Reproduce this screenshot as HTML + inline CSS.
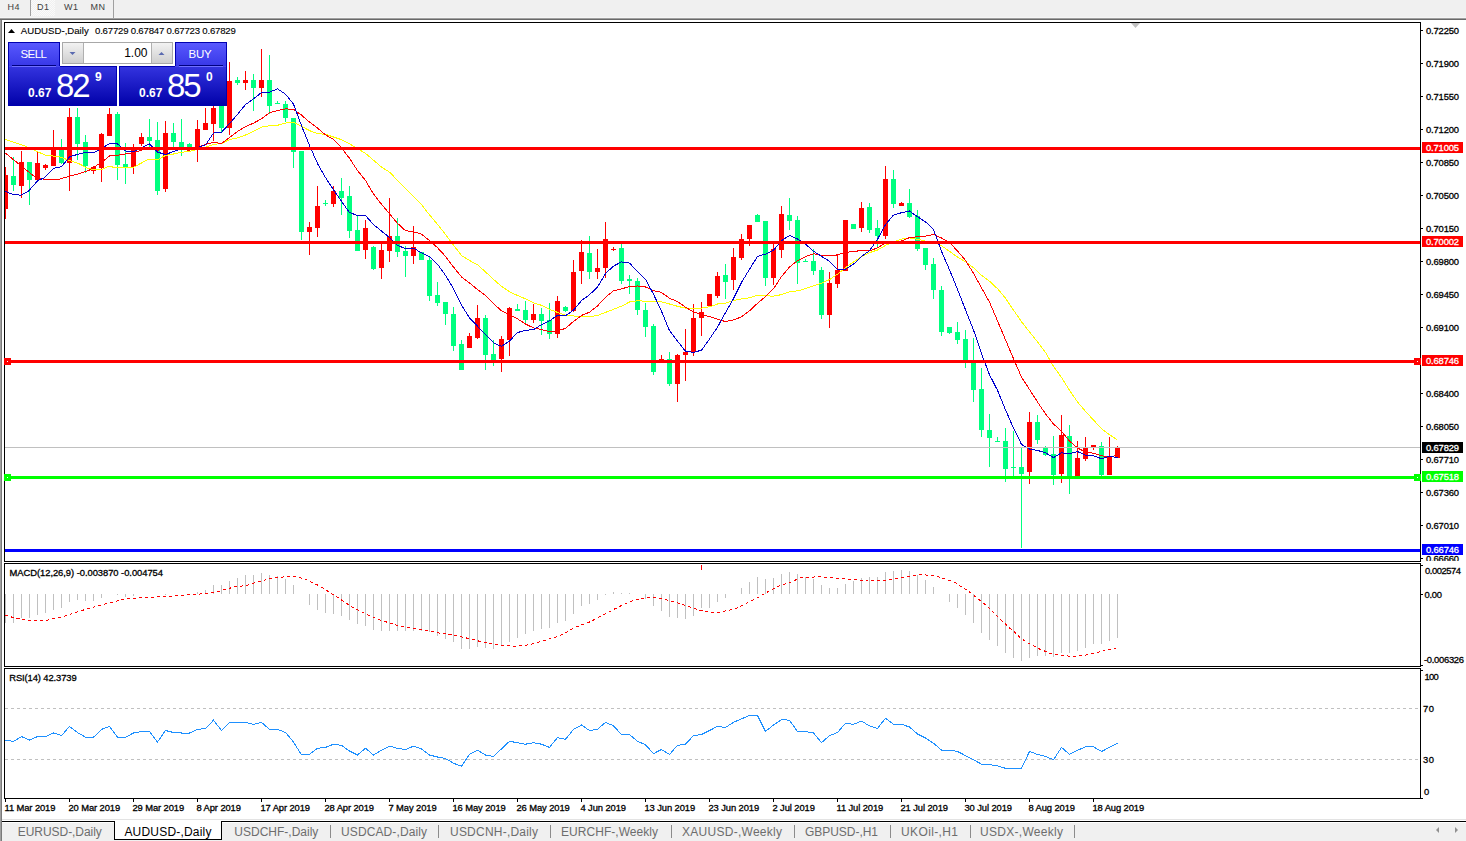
<!DOCTYPE html>
<html><head><meta charset="utf-8"><title>AUDUSD-,Daily</title>
<style>
html,body{margin:0;padding:0;background:#fff;}
body{width:1466px;height:841px;overflow:hidden;position:relative;font-family:"Liberation Sans", sans-serif;}
svg{position:absolute;left:0;top:0;}
text{font-family:"Liberation Sans", sans-serif;}
.b{stroke:#000;stroke-width:0.3px;}
.w{stroke:#fff;stroke-width:0.3px;}
.b2{stroke:#000;stroke-width:0.12px;}
</style></head><body>
<svg width="1466" height="841" viewBox="0 0 1466 841">
<defs>
<linearGradient id="gTab" x1="0" y1="0" x2="0" y2="1"><stop offset="0" stop-color="#5a5aff"/><stop offset="1" stop-color="#3636e6"/></linearGradient>
<linearGradient id="gPrice" x1="0" y1="0" x2="0" y2="1"><stop offset="0" stop-color="#3434e0"/><stop offset="1" stop-color="#0000a8"/></linearGradient>
<linearGradient id="gBtn" x1="0" y1="0" x2="0" y2="1"><stop offset="0" stop-color="#f2f2f2"/><stop offset="1" stop-color="#cfcfcf"/></linearGradient>
<pattern id="dith" width="2" height="2" patternUnits="userSpaceOnUse"><rect width="2" height="2" fill="#f0f0f0"/><rect width="1" height="1" fill="#fafafa"/><rect x="1" y="1" width="1" height="1" fill="#fafafa"/></pattern>
</defs>

<rect x="0" y="0" width="1466" height="17" fill="#f0f0f0"/>
<rect x="0" y="17" width="1466" height="1" fill="#f5f5f5"/>
<rect x="0" y="18" width="1466" height="1" fill="#a0a0a0"/>
<rect x="0" y="19" width="1466" height="1" fill="#696969"/>
<rect x="31" y="0" width="24" height="16" fill="url(#dith)"/>
<rect x="30" y="0" width="1" height="16" fill="#a0a0a0"/>
<rect x="113" y="0" width="1" height="18" fill="#a0a0a0"/>
<text x="7.5" y="10" font-size="9" letter-spacing="0.4" fill="#404040">H4</text>
<text x="37" y="10" font-size="9" letter-spacing="0.4" fill="#404040">D1</text>
<text x="64" y="10" font-size="9" letter-spacing="0.4" fill="#404040">W1</text>
<text x="90.5" y="10" font-size="9" letter-spacing="0.4" fill="#404040">MN</text>
<rect x="0" y="20" width="1" height="821" fill="#a0a0a0"/>
<rect x="1" y="20" width="1" height="821" fill="#7a7a7a"/>
<g shape-rendering="crispEdges" fill="none" stroke="#000" stroke-width="1">
<path d="M4.5,22.5H1420.5V561.5H4.5Z"/>
<path d="M4.5,563.5H1420.5V666.5H4.5Z"/>
<path d="M4.5,668.5H1420.5V798.5H4.5Z"/>
</g>
<g shape-rendering="crispEdges">
<rect x="5" y="167" width="1" height="52" fill="#ff0000"/>
<rect x="5" y="175" width="3" height="34" fill="#ff0000"/>
<rect x="13" y="157" width="1" height="34" fill="#00ff7f"/>
<rect x="11" y="176" width="5" height="9" fill="#00ff7f"/>
<rect x="21" y="151" width="1" height="47" fill="#ff0000"/>
<rect x="19" y="162" width="5" height="24" fill="#ff0000"/>
<rect x="29" y="162" width="1" height="43" fill="#00ff7f"/>
<rect x="27" y="162" width="5" height="18" fill="#00ff7f"/>
<rect x="37" y="152" width="1" height="28" fill="#ff0000"/>
<rect x="35" y="163" width="5" height="17" fill="#ff0000"/>
<rect x="45" y="164" width="1" height="6" fill="#ff0000"/>
<rect x="43" y="165" width="5" height="3" fill="#ff0000"/>
<rect x="53" y="130" width="1" height="36" fill="#ff0000"/>
<rect x="51" y="148" width="5" height="18" fill="#ff0000"/>
<rect x="61" y="139" width="1" height="25" fill="#00ff7f"/>
<rect x="59" y="149" width="5" height="14" fill="#00ff7f"/>
<rect x="69" y="108" width="1" height="83" fill="#ff0000"/>
<rect x="67" y="117" width="5" height="46" fill="#ff0000"/>
<rect x="77" y="108" width="1" height="52" fill="#00ff7f"/>
<rect x="75" y="117" width="5" height="27" fill="#00ff7f"/>
<rect x="85" y="135" width="1" height="38" fill="#00ff7f"/>
<rect x="83" y="142" width="5" height="24" fill="#00ff7f"/>
<rect x="93" y="166" width="1" height="8" fill="#ff0000"/>
<rect x="91" y="167" width="5" height="4" fill="#ff0000"/>
<rect x="101" y="133" width="1" height="49" fill="#ff0000"/>
<rect x="99" y="134" width="5" height="34" fill="#ff0000"/>
<rect x="109" y="108" width="1" height="28" fill="#ff0000"/>
<rect x="107" y="114" width="5" height="22" fill="#ff0000"/>
<rect x="117" y="112" width="1" height="68" fill="#00ff7f"/>
<rect x="115" y="114" width="5" height="51" fill="#00ff7f"/>
<rect x="125" y="143" width="1" height="41" fill="#00ff7f"/>
<rect x="123" y="164" width="5" height="3" fill="#00ff7f"/>
<rect x="133" y="144" width="1" height="30" fill="#ff0000"/>
<rect x="131" y="149" width="5" height="18" fill="#ff0000"/>
<rect x="141" y="133" width="1" height="13" fill="#ff0000"/>
<rect x="139" y="137" width="5" height="7" fill="#ff0000"/>
<rect x="149" y="119" width="1" height="28" fill="#00ff7f"/>
<rect x="147" y="137" width="5" height="4" fill="#00ff7f"/>
<rect x="157" y="122" width="1" height="73" fill="#00ff7f"/>
<rect x="155" y="140" width="5" height="51" fill="#00ff7f"/>
<rect x="165" y="121" width="1" height="71" fill="#ff0000"/>
<rect x="163" y="133" width="5" height="56" fill="#ff0000"/>
<rect x="173" y="123" width="1" height="24" fill="#00ff7f"/>
<rect x="171" y="133" width="5" height="9" fill="#00ff7f"/>
<rect x="181" y="119" width="1" height="37" fill="#00ff7f"/>
<rect x="179" y="142" width="5" height="5" fill="#00ff7f"/>
<rect x="189" y="143" width="1" height="7" fill="#00ff7f"/>
<rect x="187" y="144" width="5" height="5" fill="#00ff7f"/>
<rect x="197" y="120" width="1" height="42" fill="#ff0000"/>
<rect x="195" y="129" width="5" height="19" fill="#ff0000"/>
<rect x="205" y="108" width="1" height="22" fill="#ff0000"/>
<rect x="203" y="123" width="5" height="7" fill="#ff0000"/>
<rect x="213" y="100" width="1" height="41" fill="#ff0000"/>
<rect x="211" y="108" width="5" height="16" fill="#ff0000"/>
<rect x="221" y="100" width="1" height="33" fill="#00ff7f"/>
<rect x="219" y="100" width="5" height="28" fill="#00ff7f"/>
<rect x="229" y="62" width="1" height="73" fill="#ff0000"/>
<rect x="227" y="81" width="5" height="47" fill="#ff0000"/>
<rect x="237" y="77" width="1" height="8" fill="#00ff7f"/>
<rect x="235" y="80" width="5" height="3" fill="#00ff7f"/>
<rect x="245" y="71" width="1" height="19" fill="#ff0000"/>
<rect x="243" y="80" width="5" height="3" fill="#ff0000"/>
<rect x="253" y="74" width="1" height="37" fill="#00ff7f"/>
<rect x="251" y="80" width="5" height="8" fill="#00ff7f"/>
<rect x="261" y="49" width="1" height="48" fill="#ff0000"/>
<rect x="259" y="80" width="5" height="8" fill="#ff0000"/>
<rect x="269" y="55" width="1" height="59" fill="#00ff7f"/>
<rect x="267" y="80" width="5" height="26" fill="#00ff7f"/>
<rect x="277" y="101" width="1" height="3" fill="#00ff7f"/>
<rect x="275" y="103" width="5" height="1" fill="#00ff7f"/>
<rect x="285" y="101" width="1" height="21" fill="#00ff7f"/>
<rect x="283" y="104" width="5" height="14" fill="#00ff7f"/>
<rect x="293" y="118" width="1" height="50" fill="#00ff7f"/>
<rect x="291" y="118" width="5" height="34" fill="#00ff7f"/>
<rect x="301" y="151" width="1" height="89" fill="#00ff7f"/>
<rect x="299" y="151" width="5" height="81" fill="#00ff7f"/>
<rect x="309" y="222" width="1" height="33" fill="#ff0000"/>
<rect x="307" y="227" width="5" height="5" fill="#ff0000"/>
<rect x="317" y="186" width="1" height="51" fill="#ff0000"/>
<rect x="315" y="206" width="5" height="22" fill="#ff0000"/>
<rect x="325" y="200" width="1" height="6" fill="#00ff7f"/>
<rect x="323" y="203" width="5" height="1" fill="#00ff7f"/>
<rect x="333" y="186" width="1" height="21" fill="#ff0000"/>
<rect x="331" y="191" width="5" height="13" fill="#ff0000"/>
<rect x="341" y="178" width="1" height="37" fill="#00ff7f"/>
<rect x="339" y="191" width="5" height="7" fill="#00ff7f"/>
<rect x="349" y="186" width="1" height="52" fill="#00ff7f"/>
<rect x="347" y="196" width="5" height="35" fill="#00ff7f"/>
<rect x="357" y="216" width="1" height="35" fill="#00ff7f"/>
<rect x="355" y="230" width="5" height="21" fill="#00ff7f"/>
<rect x="365" y="220" width="1" height="39" fill="#ff0000"/>
<rect x="363" y="228" width="5" height="22" fill="#ff0000"/>
<rect x="373" y="246" width="1" height="24" fill="#00ff7f"/>
<rect x="371" y="247" width="5" height="22" fill="#00ff7f"/>
<rect x="381" y="244" width="1" height="35" fill="#ff0000"/>
<rect x="379" y="250" width="5" height="18" fill="#ff0000"/>
<rect x="389" y="198" width="1" height="64" fill="#ff0000"/>
<rect x="387" y="236" width="5" height="15" fill="#ff0000"/>
<rect x="397" y="218" width="1" height="39" fill="#00ff7f"/>
<rect x="395" y="236" width="5" height="16" fill="#00ff7f"/>
<rect x="405" y="246" width="1" height="31" fill="#00ff7f"/>
<rect x="403" y="251" width="5" height="5" fill="#00ff7f"/>
<rect x="413" y="226" width="1" height="38" fill="#ff0000"/>
<rect x="411" y="247" width="5" height="9" fill="#ff0000"/>
<rect x="421" y="252" width="1" height="8" fill="#00ff7f"/>
<rect x="419" y="252" width="5" height="8" fill="#00ff7f"/>
<rect x="429" y="256" width="1" height="45" fill="#00ff7f"/>
<rect x="427" y="260" width="5" height="36" fill="#00ff7f"/>
<rect x="437" y="282" width="1" height="24" fill="#00ff7f"/>
<rect x="435" y="295" width="5" height="8" fill="#00ff7f"/>
<rect x="445" y="302" width="1" height="23" fill="#00ff7f"/>
<rect x="443" y="302" width="5" height="12" fill="#00ff7f"/>
<rect x="453" y="307" width="1" height="44" fill="#00ff7f"/>
<rect x="451" y="314" width="5" height="32" fill="#00ff7f"/>
<rect x="461" y="340" width="1" height="30" fill="#00ff7f"/>
<rect x="459" y="344" width="5" height="26" fill="#00ff7f"/>
<rect x="469" y="333" width="1" height="15" fill="#ff0000"/>
<rect x="467" y="336" width="5" height="12" fill="#ff0000"/>
<rect x="477" y="305" width="1" height="34" fill="#ff0000"/>
<rect x="475" y="318" width="5" height="20" fill="#ff0000"/>
<rect x="485" y="315" width="1" height="55" fill="#00ff7f"/>
<rect x="483" y="318" width="5" height="37" fill="#00ff7f"/>
<rect x="493" y="340" width="1" height="26" fill="#00ff7f"/>
<rect x="491" y="354" width="5" height="7" fill="#00ff7f"/>
<rect x="501" y="336" width="1" height="36" fill="#ff0000"/>
<rect x="499" y="339" width="5" height="20" fill="#ff0000"/>
<rect x="509" y="307" width="1" height="49" fill="#ff0000"/>
<rect x="507" y="308" width="5" height="32" fill="#ff0000"/>
<rect x="517" y="304" width="1" height="7" fill="#00ff7f"/>
<rect x="515" y="309" width="5" height="2" fill="#00ff7f"/>
<rect x="525" y="301" width="1" height="24" fill="#00ff7f"/>
<rect x="523" y="310" width="5" height="10" fill="#00ff7f"/>
<rect x="533" y="304" width="1" height="19" fill="#ff0000"/>
<rect x="531" y="314" width="5" height="6" fill="#ff0000"/>
<rect x="541" y="308" width="1" height="27" fill="#00ff7f"/>
<rect x="539" y="314" width="5" height="7" fill="#00ff7f"/>
<rect x="549" y="303" width="1" height="36" fill="#00ff7f"/>
<rect x="547" y="320" width="5" height="14" fill="#00ff7f"/>
<rect x="557" y="296" width="1" height="42" fill="#ff0000"/>
<rect x="555" y="301" width="5" height="33" fill="#ff0000"/>
<rect x="565" y="306" width="1" height="6" fill="#00ff7f"/>
<rect x="563" y="307" width="5" height="4" fill="#00ff7f"/>
<rect x="573" y="260" width="1" height="52" fill="#ff0000"/>
<rect x="571" y="272" width="5" height="39" fill="#ff0000"/>
<rect x="581" y="240" width="1" height="44" fill="#ff0000"/>
<rect x="579" y="252" width="5" height="19" fill="#ff0000"/>
<rect x="589" y="236" width="1" height="43" fill="#00ff7f"/>
<rect x="587" y="253" width="5" height="19" fill="#00ff7f"/>
<rect x="597" y="249" width="1" height="30" fill="#ff0000"/>
<rect x="595" y="268" width="5" height="4" fill="#ff0000"/>
<rect x="605" y="222" width="1" height="56" fill="#ff0000"/>
<rect x="603" y="239" width="5" height="29" fill="#ff0000"/>
<rect x="613" y="247" width="1" height="4" fill="#ff0000"/>
<rect x="611" y="249" width="5" height="1" fill="#ff0000"/>
<rect x="621" y="244" width="1" height="40" fill="#00ff7f"/>
<rect x="619" y="248" width="5" height="33" fill="#00ff7f"/>
<rect x="629" y="275" width="1" height="19" fill="#00ff7f"/>
<rect x="627" y="279" width="5" height="2" fill="#00ff7f"/>
<rect x="637" y="278" width="1" height="37" fill="#00ff7f"/>
<rect x="635" y="281" width="5" height="29" fill="#00ff7f"/>
<rect x="645" y="303" width="1" height="34" fill="#00ff7f"/>
<rect x="643" y="310" width="5" height="17" fill="#00ff7f"/>
<rect x="653" y="324" width="1" height="51" fill="#00ff7f"/>
<rect x="651" y="326" width="5" height="46" fill="#00ff7f"/>
<rect x="661" y="355" width="1" height="7" fill="#ff0000"/>
<rect x="659" y="359" width="5" height="3" fill="#ff0000"/>
<rect x="669" y="352" width="1" height="34" fill="#00ff7f"/>
<rect x="667" y="359" width="5" height="25" fill="#00ff7f"/>
<rect x="677" y="354" width="1" height="48" fill="#ff0000"/>
<rect x="675" y="355" width="5" height="29" fill="#ff0000"/>
<rect x="685" y="329" width="1" height="52" fill="#ff0000"/>
<rect x="683" y="352" width="5" height="3" fill="#ff0000"/>
<rect x="693" y="304" width="1" height="52" fill="#ff0000"/>
<rect x="691" y="318" width="5" height="34" fill="#ff0000"/>
<rect x="701" y="302" width="1" height="34" fill="#ff0000"/>
<rect x="699" y="312" width="5" height="6" fill="#ff0000"/>
<rect x="709" y="294" width="1" height="13" fill="#ff0000"/>
<rect x="707" y="294" width="5" height="12" fill="#ff0000"/>
<rect x="717" y="272" width="1" height="26" fill="#ff0000"/>
<rect x="715" y="276" width="5" height="20" fill="#ff0000"/>
<rect x="725" y="264" width="1" height="35" fill="#00ff7f"/>
<rect x="723" y="275" width="5" height="7" fill="#00ff7f"/>
<rect x="733" y="248" width="1" height="42" fill="#ff0000"/>
<rect x="731" y="257" width="5" height="23" fill="#ff0000"/>
<rect x="741" y="234" width="1" height="26" fill="#ff0000"/>
<rect x="739" y="239" width="5" height="19" fill="#ff0000"/>
<rect x="749" y="225" width="1" height="21" fill="#ff0000"/>
<rect x="747" y="225" width="5" height="14" fill="#ff0000"/>
<rect x="757" y="214" width="1" height="8" fill="#00ff7f"/>
<rect x="755" y="215" width="5" height="7" fill="#00ff7f"/>
<rect x="765" y="221" width="1" height="65" fill="#00ff7f"/>
<rect x="763" y="221" width="5" height="57" fill="#00ff7f"/>
<rect x="773" y="244" width="1" height="41" fill="#ff0000"/>
<rect x="771" y="249" width="5" height="29" fill="#ff0000"/>
<rect x="781" y="206" width="1" height="52" fill="#ff0000"/>
<rect x="779" y="214" width="5" height="36" fill="#ff0000"/>
<rect x="789" y="198" width="1" height="32" fill="#00ff7f"/>
<rect x="787" y="215" width="5" height="6" fill="#00ff7f"/>
<rect x="797" y="216" width="1" height="68" fill="#00ff7f"/>
<rect x="795" y="220" width="5" height="43" fill="#00ff7f"/>
<rect x="805" y="259" width="1" height="3" fill="#00ff7f"/>
<rect x="803" y="261" width="5" height="1" fill="#00ff7f"/>
<rect x="813" y="249" width="1" height="26" fill="#00ff7f"/>
<rect x="811" y="261" width="5" height="10" fill="#00ff7f"/>
<rect x="821" y="267" width="1" height="52" fill="#00ff7f"/>
<rect x="819" y="270" width="5" height="45" fill="#00ff7f"/>
<rect x="829" y="272" width="1" height="56" fill="#ff0000"/>
<rect x="827" y="283" width="5" height="32" fill="#ff0000"/>
<rect x="837" y="255" width="1" height="33" fill="#ff0000"/>
<rect x="835" y="270" width="5" height="14" fill="#ff0000"/>
<rect x="845" y="220" width="1" height="51" fill="#ff0000"/>
<rect x="843" y="220" width="5" height="51" fill="#ff0000"/>
<rect x="853" y="224" width="1" height="5" fill="#00ff7f"/>
<rect x="851" y="224" width="5" height="5" fill="#00ff7f"/>
<rect x="861" y="202" width="1" height="30" fill="#ff0000"/>
<rect x="859" y="208" width="5" height="20" fill="#ff0000"/>
<rect x="869" y="203" width="1" height="30" fill="#00ff7f"/>
<rect x="867" y="207" width="5" height="23" fill="#00ff7f"/>
<rect x="877" y="220" width="1" height="27" fill="#00ff7f"/>
<rect x="875" y="228" width="5" height="8" fill="#00ff7f"/>
<rect x="885" y="166" width="1" height="73" fill="#ff0000"/>
<rect x="883" y="179" width="5" height="57" fill="#ff0000"/>
<rect x="893" y="170" width="1" height="38" fill="#00ff7f"/>
<rect x="891" y="179" width="5" height="25" fill="#00ff7f"/>
<rect x="901" y="202" width="1" height="4" fill="#ff0000"/>
<rect x="899" y="203" width="5" height="3" fill="#ff0000"/>
<rect x="909" y="189" width="1" height="29" fill="#00ff7f"/>
<rect x="907" y="203" width="5" height="14" fill="#00ff7f"/>
<rect x="917" y="210" width="1" height="41" fill="#00ff7f"/>
<rect x="915" y="216" width="5" height="33" fill="#00ff7f"/>
<rect x="925" y="248" width="1" height="22" fill="#00ff7f"/>
<rect x="923" y="248" width="5" height="17" fill="#00ff7f"/>
<rect x="933" y="258" width="1" height="41" fill="#00ff7f"/>
<rect x="931" y="264" width="5" height="26" fill="#00ff7f"/>
<rect x="941" y="286" width="1" height="50" fill="#00ff7f"/>
<rect x="939" y="290" width="5" height="42" fill="#00ff7f"/>
<rect x="949" y="327" width="1" height="7" fill="#00ff7f"/>
<rect x="947" y="327" width="5" height="6" fill="#00ff7f"/>
<rect x="957" y="322" width="1" height="22" fill="#00ff7f"/>
<rect x="955" y="332" width="5" height="8" fill="#00ff7f"/>
<rect x="965" y="330" width="1" height="38" fill="#00ff7f"/>
<rect x="963" y="339" width="5" height="21" fill="#00ff7f"/>
<rect x="973" y="338" width="1" height="64" fill="#00ff7f"/>
<rect x="971" y="362" width="5" height="28" fill="#00ff7f"/>
<rect x="981" y="368" width="1" height="69" fill="#00ff7f"/>
<rect x="979" y="389" width="5" height="41" fill="#00ff7f"/>
<rect x="989" y="414" width="1" height="53" fill="#00ff7f"/>
<rect x="987" y="430" width="5" height="8" fill="#00ff7f"/>
<rect x="997" y="437" width="1" height="5" fill="#00ff7f"/>
<rect x="995" y="441" width="5" height="1" fill="#00ff7f"/>
<rect x="1005" y="428" width="1" height="54" fill="#00ff7f"/>
<rect x="1003" y="441" width="5" height="28" fill="#00ff7f"/>
<rect x="1013" y="431" width="1" height="45" fill="#00ff7f"/>
<rect x="1011" y="467" width="5" height="1" fill="#00ff7f"/>
<rect x="1021" y="448" width="1" height="100" fill="#00ff7f"/>
<rect x="1019" y="467" width="5" height="7" fill="#00ff7f"/>
<rect x="1029" y="412" width="1" height="72" fill="#ff0000"/>
<rect x="1027" y="422" width="5" height="50" fill="#ff0000"/>
<rect x="1037" y="415" width="1" height="29" fill="#00ff7f"/>
<rect x="1035" y="422" width="5" height="18" fill="#00ff7f"/>
<rect x="1045" y="446" width="1" height="10" fill="#00ff7f"/>
<rect x="1043" y="448" width="5" height="7" fill="#00ff7f"/>
<rect x="1053" y="436" width="1" height="49" fill="#00ff7f"/>
<rect x="1051" y="454" width="5" height="21" fill="#00ff7f"/>
<rect x="1061" y="415" width="1" height="68" fill="#ff0000"/>
<rect x="1059" y="435" width="5" height="39" fill="#ff0000"/>
<rect x="1069" y="425" width="1" height="69" fill="#00ff7f"/>
<rect x="1067" y="436" width="5" height="40" fill="#00ff7f"/>
<rect x="1077" y="441" width="1" height="35" fill="#ff0000"/>
<rect x="1075" y="458" width="5" height="18" fill="#ff0000"/>
<rect x="1085" y="437" width="1" height="24" fill="#ff0000"/>
<rect x="1083" y="448" width="5" height="11" fill="#ff0000"/>
<rect x="1093" y="445" width="1" height="5" fill="#ff0000"/>
<rect x="1091" y="445" width="5" height="2" fill="#ff0000"/>
<rect x="1101" y="442" width="1" height="34" fill="#00ff7f"/>
<rect x="1099" y="446" width="5" height="29" fill="#00ff7f"/>
<rect x="1109" y="437" width="1" height="38" fill="#ff0000"/>
<rect x="1107" y="456" width="5" height="19" fill="#ff0000"/>
<rect x="1117" y="446" width="1" height="12" fill="#ff0000"/>
<rect x="1115" y="447" width="5" height="11" fill="#ff0000"/>
</g>
<svg x="5" y="23" width="1415" height="538" viewBox="5 23 1415 538" overflow="hidden">
<polyline points="5.0,139.3 25.0,146.0 45.0,155.0 60.0,157.0 80.0,164.2 87.0,168.0 96.0,170.0 102.0,169.3 109.0,166.3 114.0,167.3 133.0,167.3 136.0,166.0 148.0,159.4 158.0,159.4 165.5,155.5 173.5,154.0 181.5,152.2 189.5,151.5 197.5,149.1 205.5,147.2 213.5,144.5 221.5,143.5 229.5,139.6 237.5,138.0 245.5,135.0 253.5,131.3 261.5,127.1 269.5,125.8 277.5,125.3 285.5,123.1 293.5,122.3 301.5,126.3 309.5,130.6 317.5,133.7 325.5,134.3 333.5,137.0 341.5,139.7 349.5,143.7 357.5,148.6 365.5,153.3 373.5,160.2 381.5,167.0 389.5,172.1 397.5,180.3 405.5,188.5 413.5,196.4 421.5,204.6 429.5,214.9 437.5,224.3 445.5,234.3 453.5,245.1 461.5,255.5 469.5,260.5 477.5,264.8 485.5,271.9 493.5,279.4 501.5,286.4 509.5,291.7 517.5,295.5 525.5,298.8 533.5,302.8 541.5,305.3 549.5,309.3 557.5,312.4 565.5,315.2 573.5,316.0 581.5,316.2 589.5,316.8 597.5,315.5 605.5,312.4 613.5,309.3 621.5,306.2 629.5,302.0 637.5,300.8 645.5,301.2 653.5,302.0 661.5,301.9 669.5,304.0 677.5,306.3 685.5,308.2 693.5,308.1 701.5,308.1 709.5,306.8 717.5,304.0 725.5,303.1 733.5,300.5 741.5,299.0 749.5,297.7 757.5,295.3 765.5,295.8 773.5,296.2 781.5,294.6 789.5,291.7 797.5,290.9 805.5,288.6 813.5,285.9 821.5,283.2 829.5,279.6 837.5,274.2 845.5,267.7 853.5,261.9 861.5,256.6 869.5,252.7 877.5,250.0 885.5,245.4 893.5,241.7 901.5,239.1 909.5,238.0 917.5,239.2 925.5,241.2 933.5,241.8 941.5,245.7 949.5,251.4 957.5,257.1 965.5,261.7 973.5,267.8 981.5,275.3 989.5,281.2 997.5,288.7 1005.5,298.2 1013.5,310.1 1021.5,321.7 1029.5,331.9 1037.5,341.9 1045.5,352.4 1053.5,366.4 1061.5,377.4 1069.5,390.4 1077.5,401.9 1085.5,411.4 1093.5,420.0 1101.5,428.8 1109.5,434.7 1117.5,440.1" fill="none" stroke="#ffff00" stroke-width="1" shape-rendering="crispEdges" />
<polyline points="5.0,152.8 35.0,177.0 43.0,179.0 60.0,179.0 71.0,175.7 80.0,173.4 89.0,170.4 99.0,163.9 104.0,160.5 109.5,156.0 117.5,155.2 125.5,154.0 133.5,153.0 141.5,150.0 149.5,148.4 157.5,150.2 165.5,149.1 173.5,147.6 181.5,149.8 189.5,150.1 197.5,147.5 205.5,144.4 213.5,142.5 221.5,143.5 229.5,137.5 237.5,131.5 245.5,126.6 253.5,123.1 261.5,118.8 269.5,112.7 277.5,110.6 285.5,108.9 293.5,109.2 301.5,115.1 309.5,122.1 317.5,128.1 325.5,134.9 333.5,139.4 341.5,147.8 349.5,158.3 357.5,170.5 365.5,180.5 373.5,194.0 381.5,204.3 389.5,213.7 397.5,223.3 405.5,230.7 413.5,231.8 421.5,234.1 429.5,240.6 437.5,247.7 445.5,256.4 453.5,267.0 461.5,276.9 469.5,283.0 477.5,289.5 485.5,295.6 493.5,303.5 501.5,310.9 509.5,314.9 517.5,318.8 525.5,324.0 533.5,327.9 541.5,329.6 549.5,331.8 557.5,330.9 565.5,328.4 573.5,321.4 581.5,315.4 589.5,312.2 597.5,305.9 605.5,297.2 613.5,290.8 621.5,288.8 629.5,286.7 637.5,286.0 645.5,287.0 653.5,290.6 661.5,292.4 669.5,298.3 677.5,301.5 685.5,307.2 693.5,311.9 701.5,314.7 709.5,316.6 717.5,319.2 725.5,321.6 733.5,319.9 741.5,316.9 749.5,310.8 757.5,303.3 765.5,296.6 773.5,288.7 781.5,276.6 789.5,267.0 797.5,260.7 805.5,256.7 813.5,253.8 821.5,255.3 829.5,255.8 837.5,254.9 845.5,252.3 853.5,251.6 861.5,250.4 869.5,250.9 877.5,247.9 885.5,242.9 893.5,242.2 901.5,240.9 909.5,237.6 917.5,236.7 925.5,236.2 933.5,234.5 941.5,238.0 949.5,242.5 957.5,251.0 965.5,260.4 973.5,273.4 981.5,287.7 989.5,302.1 997.5,320.8 1005.5,339.8 1013.5,358.7 1021.5,377.1 1029.5,389.4 1037.5,402.0 1045.5,413.8 1053.5,424.0 1061.5,431.3 1069.5,441.0 1077.5,448.0 1085.5,452.1 1093.5,453.2 1101.5,455.8 1109.5,456.9 1117.5,455.3" fill="none" stroke="#ff0000" stroke-width="1" shape-rendering="crispEdges" />
<polyline points="5.0,191.4 12.4,194.2 21.0,195.2 28.5,191.0 38.0,180.5 44.7,177.6 53.5,168.4 61.5,166.6 69.5,156.9 77.5,154.4 85.5,152.4 93.5,152.9 101.5,148.5 109.5,143.6 117.5,143.9 125.5,151.0 133.5,151.7 141.5,147.6 149.5,143.9 157.5,152.0 165.5,154.7 173.5,151.4 181.5,148.6 189.5,148.6 197.5,147.4 205.5,144.9 213.5,133.1 221.5,132.3 229.5,123.6 237.5,114.4 245.5,104.6 253.5,98.8 261.5,92.6 269.5,92.2 277.5,88.9 285.5,94.2 293.5,104.0 301.5,125.7 309.5,145.5 317.5,163.5 325.5,177.5 333.5,189.9 341.5,201.3 349.5,212.6 357.5,215.4 365.5,215.5 373.5,224.5 381.5,231.1 389.5,237.5 397.5,245.3 405.5,248.8 413.5,248.2 421.5,252.8 429.5,256.7 437.5,264.2 445.5,275.4 453.5,288.8 461.5,305.1 469.5,317.8 477.5,326.2 485.5,334.5 493.5,342.8 501.5,346.4 509.5,341.0 517.5,332.6 525.5,330.3 533.5,329.6 541.5,324.7 549.5,320.8 557.5,315.4 565.5,315.8 573.5,310.2 581.5,300.6 589.5,294.7 597.5,287.1 605.5,273.6 613.5,266.1 621.5,261.9 629.5,263.1 637.5,271.5 645.5,279.3 653.5,294.2 661.5,311.3 669.5,330.6 677.5,341.1 685.5,351.3 693.5,352.4 701.5,350.2 709.5,339.0 717.5,327.2 725.5,312.6 733.5,298.6 741.5,282.5 749.5,269.2 757.5,256.4 765.5,254.1 773.5,250.3 781.5,240.6 789.5,235.5 797.5,239.0 805.5,244.2 813.5,251.2 821.5,256.4 829.5,261.3 837.5,269.3 845.5,269.1 853.5,264.2 861.5,256.5 869.5,250.7 877.5,239.4 885.5,224.6 893.5,215.1 901.5,212.7 909.5,211.0 917.5,216.8 925.5,221.8 933.5,229.5 941.5,251.3 949.5,269.8 957.5,289.4 965.5,309.8 973.5,329.9 981.5,353.6 989.5,374.7 997.5,390.3 1005.5,409.8 1013.5,428.1 1021.5,444.4 1029.5,449.0 1037.5,450.4 1045.5,452.9 1053.5,457.6 1061.5,452.8 1069.5,453.8 1077.5,451.5 1085.5,455.2 1093.5,455.9 1101.5,458.7 1109.5,456.1 1117.5,457.8" fill="none" stroke="#0000cd" stroke-width="1" shape-rendering="crispEdges" />
</svg>
<g shape-rendering="crispEdges">
<rect x="5" y="447" width="1415" height="1" fill="#c0c0c0"/>
<rect x="5" y="147" width="1415" height="3" fill="#ff0000"/>
<rect x="5" y="241" width="1415" height="3" fill="#ff0000"/>
<rect x="5" y="360" width="1415" height="3" fill="#ff0000"/>
<rect x="5" y="476" width="1415" height="3" fill="#00ff00"/>
<rect x="5" y="549" width="1415" height="3" fill="#0000ff"/>
<rect x="4" y="358" width="7" height="7" fill="#ff0000"/><rect x="7" y="361" width="1" height="1" fill="#fff"/>
<rect x="1414" y="358" width="7" height="7" fill="#ff0000"/><rect x="1417" y="361" width="1" height="1" fill="#fff"/>
<rect x="4" y="474" width="7" height="7" fill="#00ff00"/><rect x="7" y="477" width="1" height="1" fill="#fff"/>
<rect x="1414" y="474" width="7" height="7" fill="#00ff00"/><rect x="1417" y="477" width="1" height="1" fill="#fff"/>
</g>
<path d="M1131,23H1140L1135.5,28Z" fill="#c0c0c0"/>
<path d="M8,33H15L11.5,29Z" fill="#000"/>
<text x="20.8" y="34" font-size="9.6" textLength="67.9" lengthAdjust="spacing" fill="#000" class="b2">AUDUSD-,Daily</text>
<text x="95" y="34" font-size="9.6" textLength="140.8" lengthAdjust="spacing" fill="#000" class="b2">0.67729 0.67847 0.67723 0.67829</text>
<rect x="8" y="42" width="52" height="25" fill="url(#gTab)"/>
<rect x="175" y="42" width="52" height="25" fill="url(#gTab)"/>
<rect x="8" y="66" width="109" height="40" fill="url(#gPrice)"/>
<rect x="119" y="66" width="108" height="40" fill="url(#gPrice)"/>
<path d="M8.5,66.5V42.5H59.5V66.5" fill="none" stroke="#0000b0" shape-rendering="crispEdges"/>
<path d="M175.5,66.5V42.5H226.5V66.5" fill="none" stroke="#0000b0" shape-rendering="crispEdges"/>
<rect x="8.5" y="66.5" width="108" height="39" fill="none" stroke="#0000b0" shape-rendering="crispEdges"/>
<rect x="119.5" y="66.5" width="107" height="39" fill="none" stroke="#0000b0" shape-rendering="crispEdges"/>
<rect x="9" y="66" width="51" height="1" fill="#4646ee"/>
<rect x="175" y="66" width="51" height="1" fill="#4646ee"/>
<rect x="12" y="65" width="44" height="1" fill="#000080"/><rect x="12" y="66" width="44" height="1" fill="#7070ff"/>
<rect x="179" y="65" width="44" height="1" fill="#000080"/><rect x="179" y="66" width="44" height="1" fill="#7070ff"/>
<text x="20.5" y="58" font-size="11.5" letter-spacing="-0.6" fill="#fff">SELL</text>
<text x="188.5" y="58" font-size="11.5" letter-spacing="-0.2" fill="#fff">BUY</text>
<rect x="62.5" y="42.5" width="110" height="21" fill="#fff" stroke="#a8a8a8" stroke-width="1" shape-rendering="crispEdges"/>
<rect x="63" y="43" width="20" height="20" fill="url(#gBtn)"/>
<rect x="83" y="43" width="1" height="20" fill="#b0b0b0"/>
<rect x="152" y="43" width="20" height="20" fill="url(#gBtn)"/>
<rect x="151" y="43" width="1" height="20" fill="#b0b0b0"/>
<path d="M69.5,52H75.5L72.5,55Z" fill="#5a6ab0"/>
<path d="M158.5,55H164.5L161.5,52Z" fill="#5a6ab0"/>
<text x="147.5" y="57" font-size="12" text-anchor="end" fill="#000">1.00</text>
<text x="28" y="96.5" font-size="12" font-weight="bold" fill="#fff">0.67</text>
<text x="56" y="97" font-size="33" letter-spacing="-2" fill="#fff">82</text>
<text x="95" y="81" font-size="12" font-weight="bold" fill="#fff">9</text>
<text x="139" y="96.5" font-size="12" font-weight="bold" fill="#fff">0.67</text>
<text x="167" y="97" font-size="33" letter-spacing="-2" fill="#fff">85</text>
<text x="206" y="81" font-size="12" font-weight="bold" fill="#fff">0</text>
<g shape-rendering="crispEdges">
<rect x="1421" y="30" width="2" height="1" fill="#000"/>
<rect x="1421" y="63" width="2" height="1" fill="#000"/>
<rect x="1421" y="96" width="2" height="1" fill="#000"/>
<rect x="1421" y="129" width="2" height="1" fill="#000"/>
<rect x="1421" y="162" width="2" height="1" fill="#000"/>
<rect x="1421" y="195" width="2" height="1" fill="#000"/>
<rect x="1421" y="228" width="2" height="1" fill="#000"/>
<rect x="1421" y="261" width="2" height="1" fill="#000"/>
<rect x="1421" y="294" width="2" height="1" fill="#000"/>
<rect x="1421" y="327" width="2" height="1" fill="#000"/>
<rect x="1421" y="393" width="2" height="1" fill="#000"/>
<rect x="1421" y="426" width="2" height="1" fill="#000"/>
<rect x="1421" y="459" width="2" height="1" fill="#000"/>
<rect x="1421" y="492" width="2" height="1" fill="#000"/>
<rect x="1421" y="525" width="2" height="1" fill="#000"/>
<rect x="1421" y="558" width="2" height="1" fill="#000"/>
<rect x="1421" y="565" width="2" height="1" fill="#000"/>
<rect x="1421" y="594" width="2" height="1" fill="#000"/>
<rect x="1421" y="665" width="2" height="1" fill="#000"/>
<rect x="1421" y="670" width="2" height="1" fill="#000"/>
<rect x="1421" y="798" width="2" height="1" fill="#000"/>
</g>
<text x="1426" y="34" font-size="9.4" textLength="33" lengthAdjust="spacing" fill="#000" class="b">0.72250</text>
<text x="1426" y="67" font-size="9.4" textLength="33" lengthAdjust="spacing" fill="#000" class="b">0.71900</text>
<text x="1426" y="100" font-size="9.4" textLength="33" lengthAdjust="spacing" fill="#000" class="b">0.71550</text>
<text x="1426" y="133" font-size="9.4" textLength="33" lengthAdjust="spacing" fill="#000" class="b">0.71200</text>
<text x="1426" y="166" font-size="9.4" textLength="33" lengthAdjust="spacing" fill="#000" class="b">0.70850</text>
<text x="1426" y="199" font-size="9.4" textLength="33" lengthAdjust="spacing" fill="#000" class="b">0.70500</text>
<text x="1426" y="232" font-size="9.4" textLength="33" lengthAdjust="spacing" fill="#000" class="b">0.70150</text>
<text x="1426" y="265" font-size="9.4" textLength="33" lengthAdjust="spacing" fill="#000" class="b">0.69800</text>
<text x="1426" y="298" font-size="9.4" textLength="33" lengthAdjust="spacing" fill="#000" class="b">0.69450</text>
<text x="1426" y="331" font-size="9.4" textLength="33" lengthAdjust="spacing" fill="#000" class="b">0.69100</text>
<text x="1426" y="397" font-size="9.4" textLength="33" lengthAdjust="spacing" fill="#000" class="b">0.68400</text>
<text x="1426" y="430" font-size="9.4" textLength="33" lengthAdjust="spacing" fill="#000" class="b">0.68050</text>
<text x="1426" y="463" font-size="9.4" textLength="33" lengthAdjust="spacing" fill="#000" class="b">0.67710</text>
<text x="1426" y="496" font-size="9.4" textLength="33" lengthAdjust="spacing" fill="#000" class="b">0.67360</text>
<text x="1426" y="529" font-size="9.4" textLength="33" lengthAdjust="spacing" fill="#000" class="b">0.67010</text>
<text x="1426" y="562" font-size="9.4" textLength="33" lengthAdjust="spacing" fill="#000" class="b">0.66660</text>
<rect x="1422" y="142" width="41" height="11" fill="#ff0000" shape-rendering="crispEdges"/>
<text x="1426" y="151" font-size="9.4" textLength="33" lengthAdjust="spacing" fill="#fff" class="w">0.71005</text>
<rect x="1422" y="236" width="41" height="11" fill="#ff0000" shape-rendering="crispEdges"/>
<text x="1426" y="245" font-size="9.4" textLength="33" lengthAdjust="spacing" fill="#fff" class="w">0.70002</text>
<rect x="1422" y="355" width="41" height="11" fill="#ff0000" shape-rendering="crispEdges"/>
<text x="1426" y="364" font-size="9.4" textLength="33" lengthAdjust="spacing" fill="#fff" class="w">0.68746</text>
<rect x="1422" y="442" width="41" height="11" fill="#000000" shape-rendering="crispEdges"/>
<text x="1426" y="451" font-size="9.4" textLength="33" lengthAdjust="spacing" fill="#fff" class="w">0.67829</text>
<rect x="1422" y="471" width="41" height="11" fill="#00ff00" shape-rendering="crispEdges"/>
<text x="1426" y="480" font-size="9.4" textLength="33" lengthAdjust="spacing" fill="#fff" class="w">0.67518</text>
<rect x="1422" y="544" width="41" height="11" fill="#0000ff" shape-rendering="crispEdges"/>
<text x="1426" y="553" font-size="9.4" textLength="33" lengthAdjust="spacing" fill="#fff" class="w">0.66746</text>
<rect x="1421" y="561" width="45" height="2" fill="#fff"/>
<text x="1425" y="574" font-size="9.4" textLength="36" lengthAdjust="spacing" fill="#000" class="b">0.002574</text>
<text x="1424.5" y="598" font-size="9.4" textLength="17.5" lengthAdjust="spacing" fill="#000" class="b">0.00</text>
<text x="1424" y="663" font-size="9.4" textLength="40" lengthAdjust="spacing" fill="#000" class="b">-0.006326</text>
<text x="1424.5" y="680" font-size="9.4" textLength="14.3" lengthAdjust="spacing" fill="#000" class="b">100</text>
<text x="1423" y="712" font-size="9.4" textLength="11" lengthAdjust="spacing" fill="#000" class="b">70</text>
<text x="1423" y="763" font-size="9.4" textLength="11" lengthAdjust="spacing" fill="#000" class="b">30</text>
<text x="1424" y="795" font-size="9.4" textLength="6" lengthAdjust="spacing" fill="#000" class="b">0</text>
<g shape-rendering="crispEdges">
<rect x="5" y="594" width="1" height="29" fill="#c0c0c0"/>
<rect x="13" y="594" width="1" height="29" fill="#c0c0c0"/>
<rect x="21" y="594" width="1" height="24" fill="#c0c0c0"/>
<rect x="29" y="594" width="1" height="24" fill="#c0c0c0"/>
<rect x="37" y="594" width="1" height="21" fill="#c0c0c0"/>
<rect x="45" y="594" width="1" height="19" fill="#c0c0c0"/>
<rect x="53" y="594" width="1" height="16" fill="#c0c0c0"/>
<rect x="61" y="594" width="1" height="14" fill="#c0c0c0"/>
<rect x="69" y="594" width="1" height="8" fill="#c0c0c0"/>
<rect x="77" y="594" width="1" height="6" fill="#c0c0c0"/>
<rect x="85" y="594" width="1" height="7" fill="#c0c0c0"/>
<rect x="93" y="594" width="1" height="7" fill="#c0c0c0"/>
<rect x="101" y="594" width="1" height="4" fill="#c0c0c0"/>
<rect x="117" y="594" width="1" height="1" fill="#c0c0c0"/>
<rect x="125" y="594" width="1" height="3" fill="#c0c0c0"/>
<rect x="133" y="594" width="1" height="2" fill="#c0c0c0"/>
<rect x="165" y="594" width="1" height="1" fill="#c0c0c0"/>
<rect x="197" y="592" width="1" height="2" fill="#c0c0c0"/>
<rect x="205" y="590" width="1" height="4" fill="#c0c0c0"/>
<rect x="213" y="585" width="1" height="9" fill="#c0c0c0"/>
<rect x="221" y="585" width="1" height="9" fill="#c0c0c0"/>
<rect x="229" y="581" width="1" height="13" fill="#c0c0c0"/>
<rect x="237" y="578" width="1" height="16" fill="#c0c0c0"/>
<rect x="245" y="575" width="1" height="19" fill="#c0c0c0"/>
<rect x="253" y="575" width="1" height="19" fill="#c0c0c0"/>
<rect x="261" y="573" width="1" height="21" fill="#c0c0c0"/>
<rect x="269" y="575" width="1" height="19" fill="#c0c0c0"/>
<rect x="277" y="576" width="1" height="18" fill="#c0c0c0"/>
<rect x="285" y="579" width="1" height="15" fill="#c0c0c0"/>
<rect x="293" y="585" width="1" height="9" fill="#c0c0c0"/>
<rect x="309" y="594" width="1" height="11" fill="#c0c0c0"/>
<rect x="317" y="594" width="1" height="16" fill="#c0c0c0"/>
<rect x="325" y="594" width="1" height="19" fill="#c0c0c0"/>
<rect x="333" y="594" width="1" height="20" fill="#c0c0c0"/>
<rect x="341" y="594" width="1" height="22" fill="#c0c0c0"/>
<rect x="349" y="594" width="1" height="26" fill="#c0c0c0"/>
<rect x="357" y="594" width="1" height="30" fill="#c0c0c0"/>
<rect x="365" y="594" width="1" height="32" fill="#c0c0c0"/>
<rect x="373" y="594" width="1" height="36" fill="#c0c0c0"/>
<rect x="381" y="594" width="1" height="37" fill="#c0c0c0"/>
<rect x="389" y="594" width="1" height="37" fill="#c0c0c0"/>
<rect x="397" y="594" width="1" height="37" fill="#c0c0c0"/>
<rect x="405" y="594" width="1" height="37" fill="#c0c0c0"/>
<rect x="413" y="594" width="1" height="37" fill="#c0c0c0"/>
<rect x="421" y="594" width="1" height="37" fill="#c0c0c0"/>
<rect x="429" y="594" width="1" height="38" fill="#c0c0c0"/>
<rect x="437" y="594" width="1" height="42" fill="#c0c0c0"/>
<rect x="445" y="594" width="1" height="45" fill="#c0c0c0"/>
<rect x="453" y="594" width="1" height="48" fill="#c0c0c0"/>
<rect x="461" y="594" width="1" height="55" fill="#c0c0c0"/>
<rect x="469" y="594" width="1" height="55" fill="#c0c0c0"/>
<rect x="477" y="594" width="1" height="53" fill="#c0c0c0"/>
<rect x="485" y="594" width="1" height="54" fill="#c0c0c0"/>
<rect x="493" y="594" width="1" height="55" fill="#c0c0c0"/>
<rect x="501" y="594" width="1" height="52" fill="#c0c0c0"/>
<rect x="509" y="594" width="1" height="48" fill="#c0c0c0"/>
<rect x="517" y="594" width="1" height="44" fill="#c0c0c0"/>
<rect x="525" y="594" width="1" height="40" fill="#c0c0c0"/>
<rect x="533" y="594" width="1" height="37" fill="#c0c0c0"/>
<rect x="541" y="594" width="1" height="35" fill="#c0c0c0"/>
<rect x="549" y="594" width="1" height="34" fill="#c0c0c0"/>
<rect x="557" y="594" width="1" height="29" fill="#c0c0c0"/>
<rect x="565" y="594" width="1" height="27" fill="#c0c0c0"/>
<rect x="573" y="594" width="1" height="20" fill="#c0c0c0"/>
<rect x="581" y="594" width="1" height="12" fill="#c0c0c0"/>
<rect x="589" y="594" width="1" height="10" fill="#c0c0c0"/>
<rect x="597" y="594" width="1" height="6" fill="#c0c0c0"/>
<rect x="605" y="594" width="1" height="1" fill="#c0c0c0"/>
<rect x="613" y="592" width="1" height="2" fill="#c0c0c0"/>
<rect x="621" y="593" width="1" height="1" fill="#c0c0c0"/>
<rect x="629" y="593" width="1" height="1" fill="#c0c0c0"/>
<rect x="645" y="594" width="1" height="5" fill="#c0c0c0"/>
<rect x="653" y="594" width="1" height="12" fill="#c0c0c0"/>
<rect x="661" y="594" width="1" height="17" fill="#c0c0c0"/>
<rect x="669" y="594" width="1" height="23" fill="#c0c0c0"/>
<rect x="677" y="594" width="1" height="24" fill="#c0c0c0"/>
<rect x="685" y="594" width="1" height="25" fill="#c0c0c0"/>
<rect x="693" y="594" width="1" height="22" fill="#c0c0c0"/>
<rect x="701" y="594" width="1" height="14" fill="#c0c0c0"/>
<rect x="709" y="594" width="1" height="14" fill="#c0c0c0"/>
<rect x="717" y="594" width="1" height="8" fill="#c0c0c0"/>
<rect x="725" y="594" width="1" height="4" fill="#c0c0c0"/>
<rect x="741" y="588" width="1" height="6" fill="#c0c0c0"/>
<rect x="749" y="582" width="1" height="12" fill="#c0c0c0"/>
<rect x="757" y="577" width="1" height="17" fill="#c0c0c0"/>
<rect x="765" y="579" width="1" height="15" fill="#c0c0c0"/>
<rect x="773" y="578" width="1" height="16" fill="#c0c0c0"/>
<rect x="781" y="574" width="1" height="20" fill="#c0c0c0"/>
<rect x="789" y="572" width="1" height="22" fill="#c0c0c0"/>
<rect x="797" y="574" width="1" height="20" fill="#c0c0c0"/>
<rect x="805" y="577" width="1" height="17" fill="#c0c0c0"/>
<rect x="813" y="579" width="1" height="15" fill="#c0c0c0"/>
<rect x="821" y="585" width="1" height="9" fill="#c0c0c0"/>
<rect x="829" y="588" width="1" height="6" fill="#c0c0c0"/>
<rect x="837" y="588" width="1" height="6" fill="#c0c0c0"/>
<rect x="845" y="584" width="1" height="10" fill="#c0c0c0"/>
<rect x="853" y="581" width="1" height="13" fill="#c0c0c0"/>
<rect x="861" y="578" width="1" height="16" fill="#c0c0c0"/>
<rect x="869" y="577" width="1" height="17" fill="#c0c0c0"/>
<rect x="877" y="577" width="1" height="17" fill="#c0c0c0"/>
<rect x="885" y="572" width="1" height="22" fill="#c0c0c0"/>
<rect x="893" y="571" width="1" height="23" fill="#c0c0c0"/>
<rect x="901" y="570" width="1" height="24" fill="#c0c0c0"/>
<rect x="909" y="571" width="1" height="23" fill="#c0c0c0"/>
<rect x="917" y="575" width="1" height="19" fill="#c0c0c0"/>
<rect x="925" y="580" width="1" height="14" fill="#c0c0c0"/>
<rect x="933" y="587" width="1" height="7" fill="#c0c0c0"/>
<rect x="949" y="594" width="1" height="8" fill="#c0c0c0"/>
<rect x="957" y="594" width="1" height="14" fill="#c0c0c0"/>
<rect x="965" y="594" width="1" height="21" fill="#c0c0c0"/>
<rect x="973" y="594" width="1" height="29" fill="#c0c0c0"/>
<rect x="981" y="594" width="1" height="39" fill="#c0c0c0"/>
<rect x="989" y="594" width="1" height="46" fill="#c0c0c0"/>
<rect x="997" y="594" width="1" height="52" fill="#c0c0c0"/>
<rect x="1005" y="594" width="1" height="59" fill="#c0c0c0"/>
<rect x="1013" y="594" width="1" height="64" fill="#c0c0c0"/>
<rect x="1021" y="594" width="1" height="67" fill="#c0c0c0"/>
<rect x="1029" y="594" width="1" height="64" fill="#c0c0c0"/>
<rect x="1037" y="594" width="1" height="62" fill="#c0c0c0"/>
<rect x="1045" y="594" width="1" height="62" fill="#c0c0c0"/>
<rect x="1053" y="594" width="1" height="63" fill="#c0c0c0"/>
<rect x="1061" y="594" width="1" height="59" fill="#c0c0c0"/>
<rect x="1069" y="594" width="1" height="59" fill="#c0c0c0"/>
<rect x="1077" y="594" width="1" height="57" fill="#c0c0c0"/>
<rect x="1085" y="594" width="1" height="54" fill="#c0c0c0"/>
<rect x="1093" y="594" width="1" height="50" fill="#c0c0c0"/>
<rect x="1101" y="594" width="1" height="50" fill="#c0c0c0"/>
<rect x="1109" y="594" width="1" height="47" fill="#c0c0c0"/>
<rect x="1117" y="594" width="1" height="44" fill="#c0c0c0"/>
<rect x="701" y="565" width="1" height="5" fill="#ff0000"/>
</g>
<polyline points="5.0,615.0 13.0,617.5 21.0,619.3 37.0,621.0 48.0,620.0 65.0,616.0 80.0,611.0 100.0,605.4 125.0,598.8 150.0,597.2 180.0,595.6 200.0,594.0 215.0,592.3 236.0,586.5 246.0,585.7 253.0,583.3 264.0,580.3 275.0,577.6 288.0,576.7 295.0,576.4 305.0,579.2 320.0,586.2 336.0,596.4 352.0,607.0 367.0,614.7 380.0,620.0 396.0,625.0 412.0,628.3 425.0,630.0 440.0,633.2 455.0,635.3 472.0,639.3 480.0,641.4 492.0,643.9 505.0,645.5 515.0,646.3 530.0,644.7 545.0,640.3 560.0,635.7 575.0,627.5 590.0,621.8 605.0,614.0 620.0,606.2 635.0,599.7 648.0,597.2 660.0,598.3 675.0,602.0 690.0,607.0 700.0,610.3 712.0,612.8 720.0,612.0 735.0,609.0 744.0,604.6 757.0,598.0 767.0,592.3 778.0,586.2 790.0,582.5 800.0,578.0 818.0,576.7 839.0,578.4 866.0,580.8 888.0,580.0 901.0,577.6 920.0,574.3 937.0,576.4 947.0,579.7 955.0,582.5 960.0,586.2 967.0,590.0 973.0,594.7 980.0,600.5 986.0,605.0 991.0,610.3 997.0,616.0 1003.0,621.8 1009.0,627.5 1015.0,632.4 1020.0,637.3 1026.0,642.0 1033.0,645.5 1038.0,648.4 1045.0,651.2 1050.0,653.4 1056.0,654.5 1063.0,655.6 1071.0,656.3 1079.0,656.0 1086.0,655.0 1093.0,653.4 1100.0,651.7 1108.0,650.0 1116.0,648.0" fill="none" stroke="#ff0000" stroke-width="1" shape-rendering="crispEdges" stroke-dasharray="3,3"/>
<text x="9.5" y="576" font-size="9.4" textLength="153.5" lengthAdjust="spacing" fill="#000" class="b">MACD(12,26,9) -0.003870 -0.004754</text>
<g shape-rendering="crispEdges">
<line x1="5" y1="708.5" x2="1419" y2="708.5" stroke="#c0c0c0" stroke-width="1" stroke-dasharray="3,3"/>
<line x1="5" y1="759.5" x2="1419" y2="759.5" stroke="#c0c0c0" stroke-width="1" stroke-dasharray="3,3"/>
</g>
<polyline points="5.5,740.3 13.5,741.3 21.5,736.6 29.5,740.0 37.5,736.6 45.5,736.6 53.5,733.0 61.5,735.6 69.5,726.4 77.5,732.5 85.5,737.2 93.5,737.2 101.5,729.4 109.5,726.4 117.5,737.2 125.5,737.2 133.5,733.0 141.5,731.5 149.5,731.5 157.5,742.0 165.5,730.5 173.5,732.5 181.5,733.0 189.5,733.0 197.5,729.4 205.5,728.4 213.5,720.2 221.5,730.5 229.5,722.3 237.5,722.3 245.5,722.3 253.5,724.3 261.5,722.3 269.5,729.4 277.5,729.4 285.5,732.5 293.5,742.0 301.5,755.0 309.5,754.4 317.5,748.3 325.5,747.4 333.5,744.2 341.5,745.4 349.5,751.0 357.5,755.0 365.5,748.3 373.5,755.0 381.5,750.3 389.5,746.2 397.5,748.3 405.5,749.5 413.5,746.2 421.5,748.9 429.5,755.0 437.5,757.0 445.5,758.5 453.5,763.2 461.5,766.3 469.5,754.4 477.5,750.3 485.5,755.0 493.5,756.4 501.5,748.9 509.5,741.3 517.5,742.7 525.5,744.2 533.5,742.7 541.5,744.2 549.5,747.4 557.5,737.6 565.5,739.3 573.5,729.4 581.5,725.0 589.5,730.5 597.5,729.4 605.5,722.3 613.5,725.8 621.5,734.5 629.5,734.5 637.5,741.3 645.5,744.8 653.5,753.6 661.5,749.5 669.5,754.4 677.5,745.4 685.5,744.2 693.5,735.6 701.5,734.5 709.5,730.5 717.5,726.4 725.5,727.4 733.5,722.3 741.5,718.8 749.5,715.5 757.5,715.5 765.5,731.5 773.5,725.0 781.5,719.6 789.5,720.2 797.5,731.5 805.5,731.5 813.5,733.0 821.5,742.7 829.5,735.6 837.5,732.5 845.5,723.3 853.5,724.3 861.5,721.2 869.5,725.8 877.5,728.4 885.5,718.2 893.5,724.3 901.5,724.3 909.5,727.0 917.5,734.0 925.5,738.0 933.5,743.3 941.5,750.0 949.5,750.0 957.5,751.5 965.5,755.6 973.5,759.7 981.5,764.2 989.5,764.6 997.5,765.9 1005.5,768.3 1013.5,768.3 1021.5,768.3 1029.5,751.5 1037.5,754.4 1045.5,756.4 1053.5,759.7 1061.5,747.4 1069.5,754.4 1077.5,750.3 1085.5,746.8 1093.5,746.8 1101.5,751.5 1109.5,747.4 1117.5,743.3" fill="none" stroke="#1e90ff" stroke-width="1" shape-rendering="crispEdges" />
<text x="9.2" y="681" font-size="9.4" textLength="67.5" lengthAdjust="spacing" fill="#000" class="b">RSI(14) 42.3739</text>
<g shape-rendering="crispEdges">
<rect x="5" y="799" width="1" height="3" fill="#000"/>
<rect x="69" y="799" width="1" height="3" fill="#000"/>
<rect x="133" y="799" width="1" height="3" fill="#000"/>
<rect x="197" y="799" width="1" height="3" fill="#000"/>
<rect x="261" y="799" width="1" height="3" fill="#000"/>
<rect x="325" y="799" width="1" height="3" fill="#000"/>
<rect x="389" y="799" width="1" height="3" fill="#000"/>
<rect x="453" y="799" width="1" height="3" fill="#000"/>
<rect x="517" y="799" width="1" height="3" fill="#000"/>
<rect x="581" y="799" width="1" height="3" fill="#000"/>
<rect x="645" y="799" width="1" height="3" fill="#000"/>
<rect x="709" y="799" width="1" height="3" fill="#000"/>
<rect x="773" y="799" width="1" height="3" fill="#000"/>
<rect x="837" y="799" width="1" height="3" fill="#000"/>
<rect x="901" y="799" width="1" height="3" fill="#000"/>
<rect x="965" y="799" width="1" height="3" fill="#000"/>
<rect x="1029" y="799" width="1" height="3" fill="#000"/>
<rect x="1093" y="799" width="1" height="3" fill="#000"/>
</g>
<text x="4.5" y="811" font-size="9.4" letter-spacing="-0.1" fill="#000" class="b">11 Mar 2019</text>
<text x="68.5" y="811" font-size="9.4" letter-spacing="-0.1" fill="#000" class="b">20 Mar 2019</text>
<text x="132.5" y="811" font-size="9.4" letter-spacing="-0.1" fill="#000" class="b">29 Mar 2019</text>
<text x="196.5" y="811" font-size="9.4" letter-spacing="-0.1" fill="#000" class="b">8 Apr 2019</text>
<text x="260.5" y="811" font-size="9.4" letter-spacing="-0.1" fill="#000" class="b">17 Apr 2019</text>
<text x="324.5" y="811" font-size="9.4" letter-spacing="-0.1" fill="#000" class="b">28 Apr 2019</text>
<text x="388.5" y="811" font-size="9.4" letter-spacing="-0.1" fill="#000" class="b">7 May 2019</text>
<text x="452.5" y="811" font-size="9.4" letter-spacing="-0.1" fill="#000" class="b">16 May 2019</text>
<text x="516.5" y="811" font-size="9.4" letter-spacing="-0.1" fill="#000" class="b">26 May 2019</text>
<text x="580.5" y="811" font-size="9.4" letter-spacing="-0.1" fill="#000" class="b">4 Jun 2019</text>
<text x="644.5" y="811" font-size="9.4" letter-spacing="-0.1" fill="#000" class="b">13 Jun 2019</text>
<text x="708.5" y="811" font-size="9.4" letter-spacing="-0.1" fill="#000" class="b">23 Jun 2019</text>
<text x="772.5" y="811" font-size="9.4" letter-spacing="-0.1" fill="#000" class="b">2 Jul 2019</text>
<text x="836.5" y="811" font-size="9.4" letter-spacing="-0.1" fill="#000" class="b">11 Jul 2019</text>
<text x="900.5" y="811" font-size="9.4" letter-spacing="-0.1" fill="#000" class="b">21 Jul 2019</text>
<text x="964.5" y="811" font-size="9.4" letter-spacing="-0.1" fill="#000" class="b">30 Jul 2019</text>
<text x="1028.5" y="811" font-size="9.4" letter-spacing="-0.1" fill="#000" class="b">8 Aug 2019</text>
<text x="1092.5" y="811" font-size="9.4" letter-spacing="-0.1" fill="#000" class="b">18 Aug 2019</text>
<rect x="2" y="819" width="1464" height="1" fill="#e3e3e3"/>
<rect x="0" y="821" width="1466" height="1" fill="#000"/>
<rect x="0" y="822" width="1466" height="19" fill="#f0f0f0"/>
<rect x="0" y="822" width="1466" height="1" fill="#fff"/>
<rect x="0" y="820" width="1" height="21" fill="#a0a0a0"/><rect x="1" y="820" width="1" height="21" fill="#7a7a7a"/>
<rect x="114.5" y="821.5" width="107" height="18" fill="#fff" stroke="#000" stroke-width="1" shape-rendering="crispEdges"/>
<rect x="115" y="821" width="106" height="1" fill="#fff"/>
<text x="17.8" y="835.5" font-size="12" textLength="84" lengthAdjust="spacing" fill="#6d6d6d">EURUSD-,Daily</text>
<text x="124.4" y="835.5" font-size="12" textLength="87" lengthAdjust="spacing" fill="#000">AUDUSD-,Daily</text>
<text x="234.3" y="835.5" font-size="12" textLength="84" lengthAdjust="spacing" fill="#6d6d6d">USDCHF-,Daily</text>
<text x="341" y="835.5" font-size="12" textLength="86" lengthAdjust="spacing" fill="#6d6d6d">USDCAD-,Daily</text>
<text x="450" y="835.5" font-size="12" textLength="88" lengthAdjust="spacing" fill="#6d6d6d">USDCNH-,Daily</text>
<text x="561" y="835.5" font-size="12" textLength="97" lengthAdjust="spacing" fill="#6d6d6d">EURCHF-,Weekly</text>
<text x="682" y="835.5" font-size="12" textLength="100" lengthAdjust="spacing" fill="#6d6d6d">XAUUSD-,Weekly</text>
<text x="805" y="835.5" font-size="12" textLength="73" lengthAdjust="spacing" fill="#6d6d6d">GBPUSD-,H1</text>
<text x="901" y="835.5" font-size="12" textLength="57" lengthAdjust="spacing" fill="#6d6d6d">UKOil-,H1</text>
<text x="980" y="835.5" font-size="12" textLength="83" lengthAdjust="spacing" fill="#6d6d6d">USDX-,Weekly</text>
<rect x="330" y="825" width="1" height="13" fill="#8c8c8c"/>
<rect x="438" y="825" width="1" height="13" fill="#8c8c8c"/>
<rect x="550" y="825" width="1" height="13" fill="#8c8c8c"/>
<rect x="671" y="825" width="1" height="13" fill="#8c8c8c"/>
<rect x="794" y="825" width="1" height="13" fill="#8c8c8c"/>
<rect x="890" y="825" width="1" height="13" fill="#8c8c8c"/>
<rect x="970" y="825" width="1" height="13" fill="#8c8c8c"/>
<rect x="1074" y="825" width="1" height="13" fill="#8c8c8c"/>
<path d="M1436,830L1439,827V833Z" fill="#909090"/>
<path d="M1458,830L1455,827V833Z" fill="#909090"/>
</svg></body></html>
